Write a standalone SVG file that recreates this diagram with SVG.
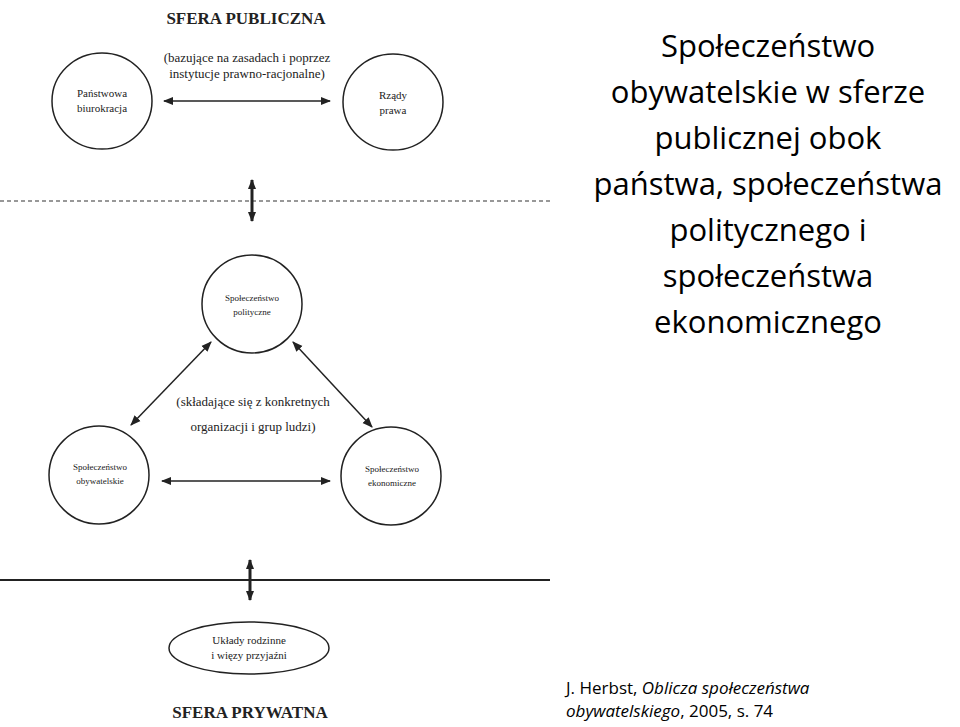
<svg xmlns="http://www.w3.org/2000/svg" width="960" height="727" viewBox="0 0 960 727">
<style>
.n{fill:none;stroke:#222;stroke-width:1.5}
.t{font-family:"Liberation Serif",serif;fill:#222;text-anchor:middle}
.s{font-size:11px}
.l{font-size:13px}
.h{font-size:17px;font-weight:bold}
.c{stroke:#222;stroke-width:1.5;fill:none;marker-start:url(#a);marker-end:url(#a)}
.v{stroke:#222;stroke-width:3;fill:none;marker-start:url(#b);marker-end:url(#b)}
.r{font-family:"Open Sans","Liberation Sans",sans-serif;fill:#000;text-anchor:middle;font-size:31px}
</style>
<defs>
<marker id="a" viewBox="0 0 10 10" refX="9" refY="5" markerWidth="7" markerHeight="7" orient="auto-start-reverse"><path d="M0,1 L10,5 L0,9 Z" fill="#222"/></marker>
<marker id="b" viewBox="0 0 10 10" refX="9" refY="5" markerWidth="3.5" markerHeight="3.5" orient="auto-start-reverse"><path d="M0,1 L10,5 L0,9 Z" fill="#222"/></marker>
</defs>
<rect width="960" height="727" fill="#fff"/>
<text class="t h" x="246" y="24">SFERA PUBLICZNA</text>
<text class="t l" x="247" y="62">(bazujące na zasadach i poprzez</text>
<text class="t l" x="247" y="78">instytucje prawno-racjonalne)</text>
<line x1="0" y1="201" x2="550" y2="201" stroke="#333" stroke-width="1.2" stroke-dasharray="4,3"/>
<line x1="0" y1="580" x2="550" y2="580" stroke="#222" stroke-width="2"/>
<g id="n1"><ellipse class="n" cx="102" cy="101" rx="50" ry="48"/><text class="t s" x="102" y="97">Państwowa</text><text class="t s" x="102" y="112">biurokracja</text></g>
<g id="n2"><ellipse class="n" cx="393" cy="102" rx="50" ry="48"/><text class="t s" x="393" y="99">Rządy</text><text class="t s" x="393" y="114">prawa</text></g>
<g id="n3"><ellipse class="n" cx="252" cy="304" rx="50" ry="49"/><text class="t" font-size="9" x="252" y="301">Społeczeństwo</text><text class="t" font-size="9" x="252" y="315">polityczne</text></g>
<g id="n4"><ellipse class="n" cx="99" cy="475" rx="50" ry="49"/><text class="t" font-size="9" x="100" y="470">Społeczeństwo</text><text class="t" font-size="9" x="100" y="484">obywatelskie</text></g>
<g id="n5"><ellipse class="n" cx="391" cy="476" rx="50" ry="49"/><text class="t" font-size="9" x="392" y="472">Społeczeństwo</text><text class="t" font-size="9" x="392" y="486">ekonomiczne</text></g>
<g id="n6"><ellipse class="n" cx="249" cy="648" rx="80" ry="26"/><text class="t s" x="249" y="644">Układy rodzinne</text><text class="t s" x="249" y="659">i więzy przyjaźni</text></g>
<text class="t l" x="253" y="406">(składające się z konkretnych</text>
<text class="t l" x="253" y="431">organizacji i grup ludzi)</text>
<g id="connectors">
<line class="c" x1="164" y1="101" x2="330" y2="101"/>
<line class="c" x1="162" y1="481" x2="330" y2="481"/>
<line class="c" x1="211" y1="342" x2="131" y2="425"/>
<line class="c" x1="293" y1="342" x2="372" y2="427"/>
<line class="v" x1="252" y1="180" x2="252" y2="221"/>
<line class="v" x1="250" y1="560" x2="250" y2="600"/>
</g>
<text class="t h" x="250" y="718">SFERA PRYWATNA</text>
<text class="r" x="768" y="57">Społeczeństwo</text>
<text class="r" x="768" y="103">obywatelskie w sferze</text>
<text class="r" x="768" y="149">publicznej obok</text>
<text class="r" x="768" y="195">państwa, społeczeństwa</text>
<text class="r" x="768" y="241">politycznego i</text>
<text class="r" x="768" y="287">społeczeństwa</text>
<text class="r" x="768" y="333">ekonomicznego</text>
<text font-family="Open Sans,Liberation Sans,sans-serif" font-size="17" x="566" y="694">J. Herbst, <tspan font-style="italic">Oblicza społeczeństwa</tspan></text>
<text font-family="Open Sans,Liberation Sans,sans-serif" font-size="17" x="566" y="717"><tspan font-style="italic">obywatelskiego</tspan>, 2005, s. 74</text>
</svg>
